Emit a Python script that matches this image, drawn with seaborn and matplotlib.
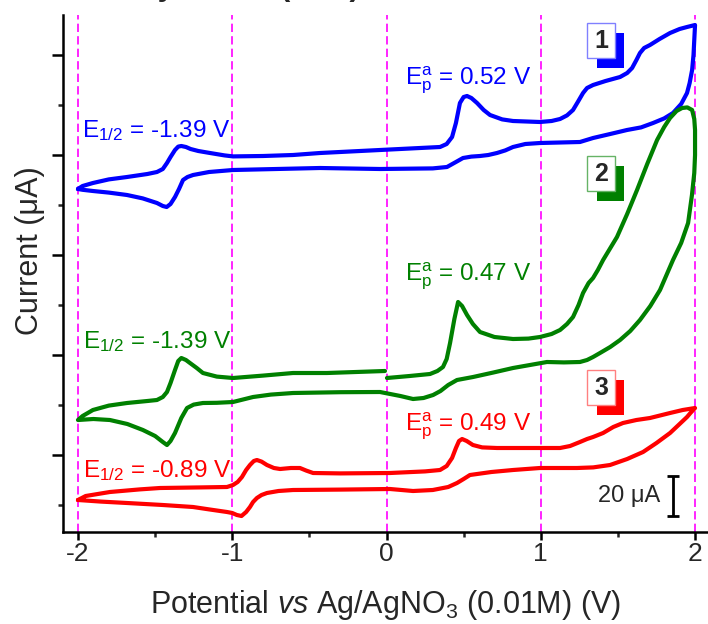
import numpy as np
import pandas as pd
import matplotlib
matplotlib.use("Agg")
import matplotlib.pyplot as plt
from matplotlib.patches import Rectangle
from matplotlib.ticker import MultipleLocator
import seaborn as sns

# ---- cyclic voltammograms (potential in V, current in uA, stacked with offsets) ----
# compound 1: loop from the negative vertex, forward sweep then return sweep
blue_E = [-2.000, -1.970, -1.903, -1.800, -1.682, -1.550, -1.488, -1.450, -1.423, -1.400,
          -1.371, -1.350, -1.330, -1.300, -1.270, -1.220, -1.144, -1.050, -0.995, -0.800,
          -0.606, -0.431, -0.042, 0.347, 0.390, 0.425, 0.450, 0.476, 0.500, 0.522,
          0.550, 0.587, 0.630, 0.671, 0.750, 0.820, 0.995, 1.070, 1.125, 1.170,
          1.209, 1.240, 1.274, 1.300, 1.339, 1.420, 1.514, 1.560, 1.592, 1.620,
          1.643, 1.670, 1.708, 1.770, 1.838, 1.900, 1.948, 2.000,
          1.990, 1.981, 1.965, 1.948, 1.910, 1.857, 1.800, 1.728, 1.650, 1.559,
          1.450, 1.339, 1.254, 1.100, 0.995, 0.900, 0.820, 0.770, 0.716, 0.660,
          0.606, 0.550, 0.496, 0.450, 0.392, 0.300, -0.042, -0.431, -0.995, -1.150,
          -1.254, -1.290, -1.319, -1.345, -1.371, -1.400, -1.425, -1.450, -1.488, -1.580,
          -1.682, -1.800, -1.903, -1.970, -2.000]
blue_I = [133.0, 134.5, 136.0, 137.8, 139.0, 140.5, 141.5, 143.0, 146.0, 149.0,
          152.5, 154.2, 154.5, 154.0, 153.0, 152.0, 151.0, 149.8, 149.3, 149.5,
          150.0, 151.0, 152.5, 154.0, 155.5, 159.0, 166.0, 176.0, 179.0, 179.5,
          178.5, 176.0, 172.5, 170.0, 167.8, 167.0, 166.5, 167.0, 168.0, 169.8,
          172.5, 176.5, 181.0, 183.5, 185.0, 187.0, 189.0, 191.0, 193.5, 197.5,
          201.0, 203.5, 205.0, 208.0, 211.0, 213.0, 214.0, 215.0,
          200.0, 192.5, 186.0, 181.0, 175.5, 171.0, 168.3, 166.0, 163.8, 162.5,
          160.5, 158.5, 156.5, 156.2, 156.0, 155.5, 154.0, 152.3, 151.0, 150.0,
          149.5, 149.2, 148.5, 146.5, 144.0, 143.3, 143.0, 143.5, 142.5, 141.5,
          140.0, 139.0, 137.5, 133.0, 129.0, 125.5, 124.0, 124.5, 126.0, 128.3,
          130.0, 131.2, 132.0, 132.6, 133.0]

# compound 2: recording starts at 0 V, sweeps positive, back to -2 V and up to 0 V
green_E = [0.003, 0.150, 0.282, 0.330, 0.366, 0.390, 0.412, 0.440, 0.464, 0.490,
           0.522, 0.560, 0.606, 0.700, 0.820, 0.920, 0.995, 1.070, 1.125, 1.170,
           1.209, 1.245, 1.274, 1.310, 1.339, 1.370, 1.404, 1.494, 1.560, 1.624,
           1.690, 1.754, 1.800, 1.838, 1.880, 1.916, 1.950, 1.981, 1.995, 2.000,
           2.000, 1.995, 1.980, 1.955, 1.910, 1.857, 1.773, 1.710, 1.643, 1.580,
           1.514, 1.450, 1.384, 1.339, 1.300, 1.254, 1.150, 1.040, 0.930, 0.820,
           0.690, 0.561, 0.457, 0.400, 0.350, 0.302, 0.240, 0.172, 0.090, -0.042,
           -0.300, -0.606, -0.750, -0.865, -0.995, -1.100, -1.190, -1.250, -1.293, -1.330,
           -1.371, -1.400, -1.423, -1.450, -1.500, -1.579, -1.680, -1.793, -1.900, -2.000,
           -1.970, -1.903, -1.800, -1.682, -1.550, -1.488, -1.450, -1.423, -1.400, -1.371,
           -1.350, -1.330, -1.300, -1.274, -1.230, -1.190, -1.100, -0.995, -0.800, -0.606,
           -0.386, -0.010]
green_I = [38.5, 39.5, 40.5, 42.0, 44.0, 48.0, 56.0, 68.0, 76.5, 74.5,
           70.0, 65.5, 61.5, 59.0, 58.0, 58.2, 59.0, 60.5, 62.5, 65.5,
           69.0, 75.0, 81.0, 86.0, 88.5, 92.5, 97.5, 109.0, 120.5, 132.5,
           145.5, 157.5, 164.0, 168.5, 172.0, 173.5, 173.8, 172.5, 168.0, 162.5,
           150.0, 141.0, 130.0, 116.0, 106.0, 97.5, 82.5, 74.5, 67.5, 62.0,
           57.5, 54.0, 51.0, 49.0, 47.5, 46.5, 46.3, 46.5, 45.0, 43.5,
           41.2, 39.0, 37.5, 35.0, 32.0, 30.0, 28.5, 28.0, 29.5, 31.5,
           31.4, 31.0, 30.2, 29.0, 26.5, 26.1, 26.0, 25.2, 23.5, 18.5,
           11.0, 7.0, 5.0, 6.5, 9.5, 12.5, 15.5, 17.5, 18.0, 17.5,
           19.5, 22.5, 24.7, 26.0, 27.0, 27.5, 29.0, 31.5, 36.0, 42.5,
           47.0, 48.5, 47.5, 46.0, 43.5, 41.0, 39.2, 38.5, 39.7, 41.0,
           41.0, 42.0]

# compound 3
red_E = [-2.000, -1.950, -1.793, -1.600, -1.468, -1.200, -1.034, -0.995, -0.965, -0.937,
         -0.910, -0.885, -0.860, -0.840, -0.810, -0.775, -0.730, -0.690, -0.620, -0.561,
         -0.520, -0.476, -0.300, 0.023, 0.250, 0.347, 0.390, 0.425, 0.450, 0.470,
         0.490, 0.520, 0.560, 0.620, 0.716, 0.995, 1.125, 1.190, 1.254, 1.300,
         1.339, 1.404, 1.470, 1.533, 1.620, 1.708, 1.838, 1.920, 2.000,
         1.970, 1.948, 1.900, 1.838, 1.750, 1.663, 1.560, 1.449, 1.340, 1.235,
         0.995, 0.820, 0.680, 0.541, 0.500, 0.457, 0.400, 0.300, 0.172, 0.023,
         -0.300, -0.606, -0.700, -0.775, -0.810, -0.840, -0.865, -0.885, -0.910, -0.940,
         -0.970, -1.000, -1.034, -1.150, -1.254, -1.450, -1.682, -1.850, -2.000]
red_I = [-22.5, -20.5, -18.5, -17.2, -16.5, -16.2, -16.0, -15.0, -13.5, -11.0,
         -7.5, -5.0, -3.0, -2.5, -3.3, -5.0, -6.5, -7.0, -6.5, -6.5,
         -7.8, -9.0, -9.2, -9.0, -8.2, -7.5, -5.5, -1.5, 3.5, 7.0,
         8.0, 7.0, 5.0, 3.8, 3.5, 3.5, 3.5, 4.5, 6.5, 8.0,
         9.0, 11.0, 14.0, 16.0, 17.5, 18.5, 21.0, 22.5, 23.5,
         21.0, 19.0, 15.5, 11.0, 6.0, 1.5, -2.0, -5.0, -6.2, -6.5,
         -6.5, -7.5, -8.5, -10.0, -12.0, -14.0, -16.0, -17.5, -18.0, -17.0,
         -17.3, -17.5, -18.0, -19.0, -20.0, -21.5, -23.5, -26.0, -28.5, -30.5,
         -30.0, -29.0, -28.5, -27.2, -26.0, -25.0, -24.0, -23.3, -22.5]

compounds = ["1", "2", "3"]
colors = {"1": "#0000ff", "2": "#008000", "3": "#ff0000"}
edge_colors = {"1": "#8080ff", "2": "#66b366", "3": "#ff8080"}

e_half_labels = ["-1.39", "-1.39", "-0.89"]
e_pa_labels = ["0.52", "0.47", "0.49"]
x_ticks = [-2, -1, 0, 1, 2]
scale_bar_uA = 20

df = pd.concat([
    pd.DataFrame({"E": blue_E, "I": blue_I, "cpd": "1"}),
    pd.DataFrame({"E": green_E, "I": green_I, "cpd": "2"}),
    pd.DataFrame({"E": red_E, "I": red_I, "cpd": "3"}),
], ignore_index=True)

sns.set_style("ticks")
plt.rcParams["font.family"] = ["Liberation Sans", "DejaVu Sans"]
plt.rcParams["mathtext.fontset"] = "custom"
plt.rcParams["mathtext.rm"] = "Liberation Sans"
plt.rcParams["mathtext.it"] = "Liberation Sans:italic"
plt.rcParams["mathtext.bf"] = "Liberation Sans:bold"

W, H = 708, 624
fig = plt.figure(figsize=(W / 100, H / 100), dpi=100)
ax = fig.add_axes([63 / W, (H - 532) / H, (W - 63) / W, (532 - 15) / H])


def fx(px):
    return px / W


def fy(py):
    return 1 - py / H


# reference potentials
for xv in x_ticks:
    ax.axvline(xv, color="#ff00ff", lw=1.2, ls=(0, (5, 2.5)), zorder=1)

sns.lineplot(data=df, x="E", y="I", hue="cpd", palette=colors, sort=False,
             estimator=None, lw=3.0, legend=False, ax=ax, zorder=3)
for line in ax.lines:
    line.set_solid_joinstyle("round")
    line.set_solid_capstyle("round")

ax.set_xlim(-2.097, 2.084)
ax.set_ylim(-38.5, 220)
ax.set_xticks(x_ticks)
ax.set_xticklabels([str(t) for t in x_ticks])
ax.xaxis.set_minor_locator(MultipleLocator(0.5))
ax.yaxis.set_major_locator(MultipleLocator(50))
ax.yaxis.set_minor_locator(MultipleLocator(25))
ax.set_yticklabels([])

ax.tick_params(axis="x", which="major", direction="out", length=6, width=1.8,
               labelsize=19, pad=1, color="black")
ax.tick_params(axis="x", which="minor", direction="out", length=3.5, width=1.8)
ax.tick_params(axis="y", which="major", direction="out", length=8, width=1.8, color="black")
ax.tick_params(axis="y", which="minor", direction="out", length=3.5, width=1.8)
for side in ["top", "right"]:
    ax.spines[side].set_visible(False)
for side in ["left", "bottom"]:
    ax.spines[side].set_linewidth(1.8)
    ax.spines[side].set_color("black")

ax.set_xlabel(r"Potential $\mathit{vs}$ Ag/AgNO$_3$ (0.01M) (V)", fontsize=22, labelpad=16)
ax.set_ylabel("Current (\u03bcA)", fontsize=22)
ax.yaxis.set_label_coords(-0.028, 0.545)

# half-wave and anodic peak annotations
e_half_pos = [(-1.974, 159.0), (-1.968, 53.5), (-1.968, -11.0)]
e_pa_pos = [(0.12, 185.0), (0.12, 87.0), (0.12, 12.5)]
for c, lab, (x, y) in zip(compounds, e_half_labels, e_half_pos):
    ax.text(x, y, r"$\mathregular{E_{1/2}}$ = " + lab + " V", color=colors[c],
            fontsize=17.5, ha="left", va="baseline", zorder=4)
for c, lab, (x, y) in zip(compounds, e_pa_labels, e_pa_pos):
    ax.text(x, y, r"$\mathregular{E_p^a}$ = " + lab + " V", color=colors[c],
            fontsize=17.5, ha="left", va="baseline", zorder=4)

# numbered tags with offset shadow
tag_tops = [23, 156, 370]
for c, top in zip(compounds, tag_tops):
    fig.patches.append(Rectangle((fx(597), fy(top + 45)), 27 / W, 35 / H,
                                 transform=fig.transFigure, facecolor=colors[c],
                                 edgecolor="none", zorder=5))
    fig.patches.append(Rectangle((fx(587), fy(top + 35)), 28 / W, 35 / H,
                                 transform=fig.transFigure, facecolor="white",
                                 edgecolor=edge_colors[c], lw=1.0, zorder=6))
    fig.text(fx(601), fy(top + 18), c, fontsize=18, fontweight="bold",
             ha="center", va="center", zorder=7)

# current scale bar
bar_x = 1.857
bar_top = -10.5
ax.errorbar([bar_x], [bar_top - scale_bar_uA / 2], yerr=[scale_bar_uA / 2],
            color="black", lw=2.0, capsize=4, capthick=2.0, zorder=4)
ax.text(1.773, bar_top - scale_bar_uA / 2, f"{scale_bar_uA} \u03bcA", fontsize=17,
        ha="right", va="center", zorder=4)

fig.text(fx(360), fy(-5), "Electrochemistry of 1\u20133 (THF)", fontsize=22,
         fontweight="bold", ha="right", va="baseline")

fig.savefig("out.png", dpi=100)
